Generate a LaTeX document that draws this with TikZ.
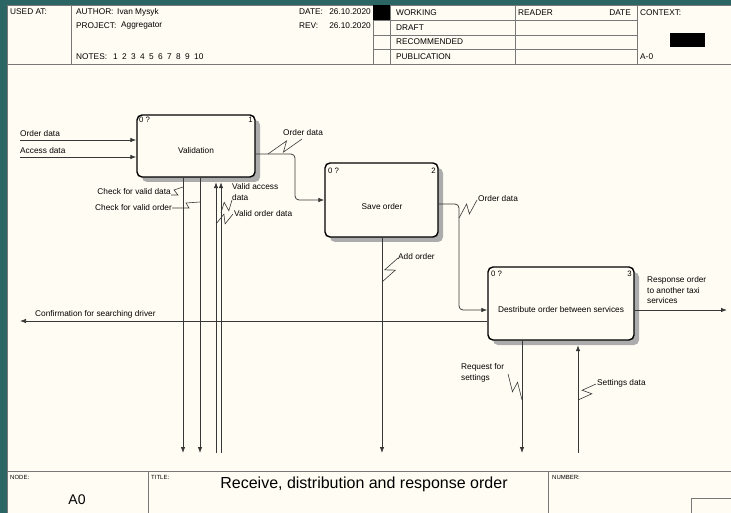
\documentclass[tikz,border=0pt]{standalone}
\usepackage{fontspec}
\setmainfont{Liberation Sans}
\usetikzlibrary{arrows.meta,shadows,calc}
\definecolor{tealbg}{RGB}{43,101,100}
\definecolor{paper}{RGB}{255,253,243}
\definecolor{ln}{RGB}{55,55,55}
\definecolor{gridc}{RGB}{120,120,120}
\newcommand\squig[3]{\draw[sq] (#1) -- ($(#1)!0.6!(#2)!4.5pt!#3:(#2)$) -- ($(#1)!0.4!(#2)!4.5pt!-#3:(#2)$) -- (#2);}
\begin{document}
\begin{tikzpicture}[x=1pt,y=-1pt,
  every node/.style={inner sep=0pt, font=\fontsize{8.3}{10}\selectfont},
  gridl/.style={draw=gridc, line width=0.7pt},
  hdr/.style={anchor=west},
  tinyl/.style={anchor=west, font=\fontsize{6}{7}\selectfont},
  corner/.style={font=\fontsize{7.8}{9}\selectfont},
  procbox/.style={draw=black, line width=1.4pt, rounded corners=5pt, fill=paper,
    drop shadow={shadow xshift=5pt, shadow yshift=-5pt, fill=gray!65, opacity=1}},
  flow/.style={draw=ln, line width=0.75pt, -{Latex[length=6pt,width=4.5pt]}},
  flowr/.style={flow, rounded corners=4pt},
  sq/.style={draw=ln, line width=0.6pt},
  lbl/.style={anchor=west},
  mlbl/.style={anchor=north west, align=left, font=\fontsize{8.3}{10.8}\selectfont}]
\useasboundingbox (0,0) rectangle (731,513);
\fill[tealbg] (0,0) rectangle (731,513);
\fill[paper] (7,5) rectangle (731,513);
\draw[gridl] (7,513) -- (7,5) -- (731,5);
% ---------- header ----------
\draw[gridl] (7,64) -- (731,64);
\foreach \xx in {71,373,390,515,637} \draw[gridl] (\xx,5) -- (\xx,64);
\foreach \yy in {20,35,49} \draw[gridl] (373,\yy) -- (637,\yy);
\fill[black] (373,5) rectangle (390,20);
\fill[black] (670,33) rectangle (705,47);
\node[hdr] (usedat) at (10,12) {USED AT:};
\node[hdr] (author) at (76,12) {AUTHOR:};
\node[hdr] (authorv) at (117,12) {Ivan Mysyk};
\node[hdr] (project) at (76,26) {PROJECT:};
\node[hdr] (projectv) at (121,26) {Aggregator};
\node[hdr] (notes) at (76,57) {NOTES:};
\foreach \i in {1,...,9} \node[hdr] (n\i) at ({113+9*(\i-1)},57) {\i};
\node[hdr] (n10) at (194,57) {10};
\node[hdr] (date) at (299,12) {DATE:};
\node[anchor=east] (datev) at (371,12) {26.10.2020};
\node[hdr] (rev) at (299,26) {REV:};
\node[anchor=east] (revv) at (371,26) {26.10.2020};
\node[hdr] (working) at (396,12.5) {WORKING};
\node[hdr] (draft) at (396,27.5) {DRAFT};
\node[hdr] (recom) at (396,42) {RECOMMENDED};
\node[hdr] (publ) at (396,56.5) {PUBLICATION};
\node[hdr] (reader) at (518,12.5) {READER};
\node[anchor=east] (rdate) at (631,12.5) {DATE};
\node[hdr] (context) at (640,12.5) {CONTEXT:};
\node[hdr] (acode) at (640,56.5) {A-0};
% ---------- footer ----------
\draw[gridl] (7,471) -- (731,471);
\draw[gridl] (148,471) -- (148,513);
\draw[gridl] (548,471) -- (548,513);
\draw[gridl] (691,513) -- (691,498) -- (731,498);
\node[tinyl] (nodel) at (10,477) {NODE:};
\node[tinyl] (titlel) at (151,477) {TITLE:};
\node[tinyl] (numberl) at (552,477) {NUMBER:};
\node[font=\fontsize{14}{16}\selectfont] (a0) at (77,500) {A0};
\node[font=\fontsize{16}{18}\selectfont] (title) at (364,484) {Receive, distribution and response order};
% ---------- boxes ----------
\node[procbox, minimum width=118pt, minimum height=62pt] (v) at (196,146) {};
\node[procbox, minimum width=113pt, minimum height=74pt] (s) at (381.5,200) {};
\node[procbox, minimum width=146pt, minimum height=73pt] (d) at (561,303.5) {};
\node (vt) at (196,151) {Validation};
\node (st) at (382,207) {Save order};
\node (dt) at (561,310) {Destribute order between services};
\node[corner, anchor=west] (v0) at (139,120) {0 ?};
\node[corner, anchor=east] (v1) at (253,120) {1};
\node[corner, anchor=west] (s0) at (328,171) {0 ?};
\node[corner, anchor=east] (s1) at (436,171) {2};
\node[corner, anchor=west] (d0) at (491,274) {0 ?};
\node[corner, anchor=east] (d1) at (632,274) {3};
% ---------- inputs ----------
\coordinate (i1) at (20,140);
\coordinate (i2) at (20,157);
\draw[flow] (i1) -- (v.west |- i1);
\draw[flow] (i2) -- (v.west |- i2);
\node[lbl] (li1) at (20,134) {Order data};
\node[lbl] (li2) at (20,151) {Access data};
% ---------- validation -> save ----------
\coordinate (c1) at (295,200);
\draw[flowr] (v.east |- 0,154) -- (295,154) -- (c1) -- (s.west |- c1);
\coordinate (q1a) at (268,154); \coordinate (q1e) at (302,139);
\squig{q1a}{q1e}{90}
\node[lbl] (lo1) at (283,133) {Order data};
% ---------- save -> destribute ----------
\coordinate (c2) at (459,310);
\draw[flowr] (s.east |- 0,204) -- (459,204) -- (c2) -- (d.west |- c2);
\coordinate (q2a) at (459,218); \coordinate (q2e) at (477,200);
\squig{q2a}{q2e}{90}
\node[lbl] (lo2) at (478,199) {Order data};
% ---------- destribute outputs ----------
\coordinate (out) at (727,310);
\draw[flow] (d.east |- out) -- (out);
\node[mlbl] (lout) at (647,276) {Response order\\to another taxi\\services};
\coordinate (conf) at (20,321);
\draw[flow] (d.west |- conf) -- (conf);
\node[lbl] (lconf) at (35,314) {Confirmation for searching driver};
% ---------- validation bottom ----------
\coordinate (bv1) at (183,453);
\coordinate (bv2) at (200,453);
\coordinate (bv3) at (216,453);
\coordinate (bv4) at (221,453);
\draw[flow] (v.south -| bv1) -- (bv1);
\draw[flow] (v.south -| bv2) -- (bv2);
\draw[flow] (bv3) -- ($(v.south -| bv3)+(0,4.5)$);
\draw[flow] (bv4) -- ($(v.south -| bv4)+(0,4.5)$);
\node[anchor=east] (lc1) at (171,192) {Check for valid data};
\draw[sq] (171,195) -- (178,195) -- (174,190) -- (183,187);
\node[anchor=east] (lc2) at (172,208) {Check for valid order};
\draw[sq] (172,208) -- (189,208) -- (186,203) -- (200,202);
\node[mlbl] (lva) at (232,183) {Valid access\\data};
\coordinate (q8a) at (221,213); \coordinate (q8e) at (232,200);
\squig{q8a}{q8e}{90}
\node[lbl] (lvo) at (234,214) {Valid order data};
\coordinate (q9a) at (216,224); \coordinate (q9e) at (233,214);
\squig{q9a}{q9e}{90}
% ---------- save bottom ----------
\coordinate (bs) at (382,453);
\draw[flow] (s.south -| bs) -- (bs);
\coordinate (q3a) at (382,282); \coordinate (q3e) at (398,258);
\squig{q3a}{q3e}{-90}
\node[lbl] (lao) at (398,257) {Add order};
% ---------- destribute bottom ----------
\coordinate (bd1) at (522,453);
\coordinate (bd2) at (578,453);
\draw[flow] (d.south -| bd1) -- (bd1);
\draw[flow] (bd2) -- ($(d.south -| bd2)+(0,4.5)$);
\node[mlbl] (lrq) at (461,363) {Request for\\settings};
\coordinate (q4a) at (522,400); \coordinate (q4e) at (508,374);
\squig{q4a}{q4e}{-90}
\node[lbl] (lsd) at (597,383) {Settings data};
\coordinate (q5a) at (578,400); \coordinate (q5e) at (596,384);
\squig{q5a}{q5e}{-90}
\end{tikzpicture}
\end{document}
